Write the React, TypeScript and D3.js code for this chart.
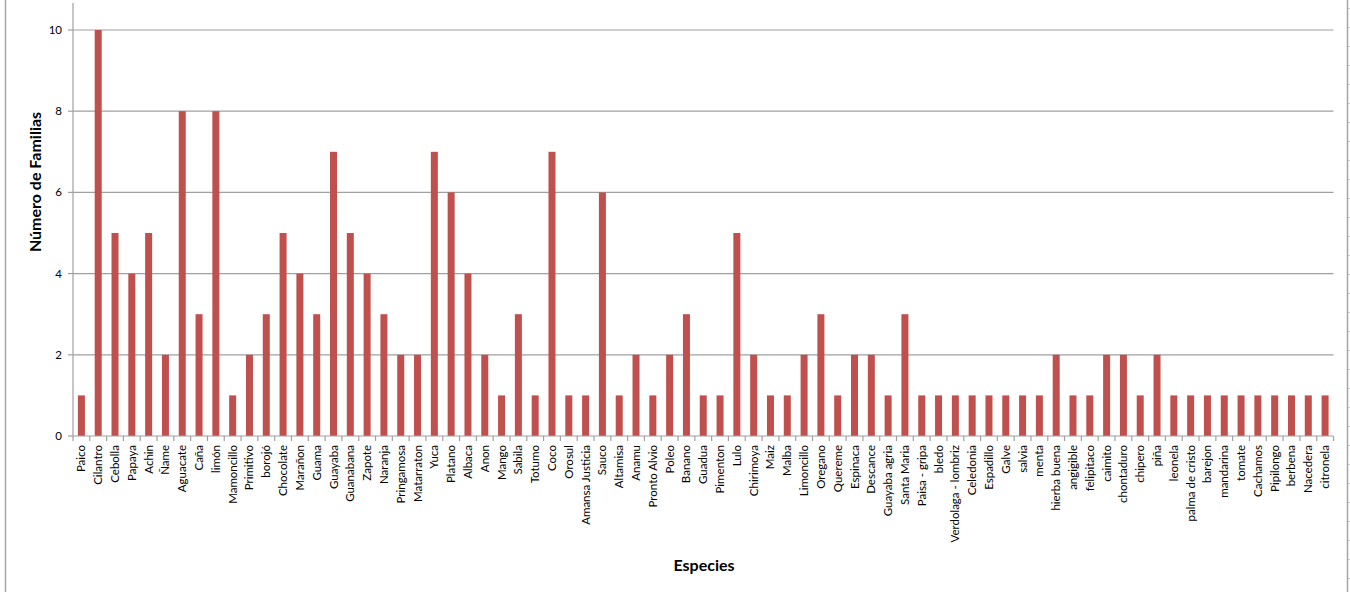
import React from "react";
import * as d3 from "d3";

const categories: string[] = [
  "Paico", "Cilantro", "Cebolla", "Papaya", "Achin", "Ñame", "Aguacate", "Caña", "limón", "Mamoncillo",
  "Primitivo", "borojó", "Chocolate", "Marañon", "Guama", "Guayaba", "Guanabana", "Zapote", "Naranja", "Pringamosa",
  "Matarraton", "Yuca", "Platano", "Albaca", "Anon", "Mango", "Sabila", "Totumo", "Coco", "Orosul",
  "Amansa Justicia", "Sauco", "Altamisa", "Anamu", "Pronto Alvio", "Poleo", "Banano", "Guadua", "Pimenton", "Lulo",
  "Chirimoya", "Maiz", "Malba", "Limoncillo", "Oregano", "Quereme", "Espinaca", "Descance", "Guayaba agria", "Santa Maria",
  "Paisa - gripa", "bledo", "Verdolaga - lombriz", "Celedonia", "Espadillo", "Galve", "salvia", "menta", "hierba buena", "angigible",
  "felipitaco", "caimito", "chontaduro", "chipero", "piña", "leonela", "palma de cristo", "barejon", "mandarina", "tomate",
  "Cachamos", "Pipilongo", "berbena", "Nacedera", "citronela",
];

const values: number[] = [
  1, 10, 5, 4, 5, 2, 8, 3, 8, 1,
  2, 3, 5, 4, 3, 7, 5, 4, 3, 2,
  2, 7, 6, 4, 2, 1, 3, 1, 7, 1,
  1, 6, 1, 2, 1, 2, 3, 1, 1, 5,
  2, 1, 1, 2, 3, 1, 2, 2, 1, 3,
  1, 1, 1, 1, 1, 1, 1, 1, 2, 1,
  1, 2, 2, 1, 2, 1, 1, 1, 1, 1,
  1, 1, 1, 1, 1,
];

const yTicks: number[] = [0, 2, 4, 6, 8, 10];

const W = 1350;
const H = 592;
const left = 73;
const right = 1333.5;
const top = 30;
const bottom = 436;
const FONT = "Lato, 'Open Sans', sans-serif";

export default function App() {
  const x = d3.scaleBand<string>().domain(categories).range([left, right]).paddingInner(0).paddingOuter(0);
  const y = d3.scaleLinear().domain([0, 10]).range([bottom, top]);
  const bw = 7;
  const step = x.step();
  const rightTicks = d3.range(8, H, 19);

  return (
    <svg width={W} height={H} style={{ position: "absolute", left: 0, top: 0, background: "#fff" }}>
      <rect x={0} y={0} width={W} height={H} fill="#fff" />
      {/* outer border lines */}
      <line x1={5.5} x2={5.5} y1={0} y2={H} stroke="#a6a6a6" strokeWidth={1.5} />
      <line x1={1347.5} x2={1347.5} y1={0} y2={H} stroke="#a6a6a6" strokeWidth={1.5} />
      {rightTicks.map((t, i) => (
        <line key={"rt" + i} x1={1348} x2={1350} y1={t + 0.5} y2={t + 0.5} stroke="#c8c8c8" />
      ))}
      {/* gridlines */}
      {yTicks.filter((t) => t > 0).map((t) => (
        <line key={"g" + t} x1={left} x2={right} y1={y(t)} y2={y(t)} stroke="#a0a0a0" strokeWidth={1.2} />
      ))}
      {/* y axis */}
      <line x1={left} x2={left} y1={3} y2={bottom} stroke="#a0a0a0" strokeWidth={1.2} />
      {yTicks.map((t) => (
        <g key={"yt" + t}>
          <line x1={left - 5} x2={left} y1={y(t)} y2={y(t)} stroke="#a0a0a0" strokeWidth={1.2} />
          <text x={62} y={y(t)} dy="0.35em" textAnchor="end" fontSize={11.5} fontFamily={FONT} fill="#000">
            {t}
          </text>
        </g>
      ))}
      {/* bars */}
      {categories.map((c, i) => (
        <rect
          key={"b" + i}
          x={(x(c) as number) + step / 2 - bw / 2}
          y={y(values[i])}
          width={bw}
          height={bottom - y(values[i])}
          fill="#C0504D"
        />
      ))}
      {/* x axis */}
      <line x1={left} x2={right} y1={bottom} y2={bottom} stroke="#a0a0a0" strokeWidth={1.2} />
      {categories.map((c, i) => (
        <line
          key={"xt" + i}
          x1={(x(c) as number) + step}
          x2={(x(c) as number) + step}
          y1={bottom}
          y2={bottom + 5}
          stroke="#a0a0a0"
          strokeWidth={1.2}
        />
      ))}
      <line x1={left} x2={left} y1={bottom} y2={bottom + 5} stroke="#a0a0a0" strokeWidth={1.2} />
      {categories.map((c, i) => {
        const cx = (x(c) as number) + step / 2 + 4;
        const cy = 445;
        return (
          <text
            key={"xl" + i}
            transform={`translate(${cx},${cy}) rotate(-90)`}
            textAnchor="end"
            fontSize={11.5}
            fontFamily={FONT}
            fill="#000"
          >
            {c}
          </text>
        );
      })}
      {/* axis titles */}
      <text
        transform={`translate(41,182) rotate(-90)`}
        textAnchor="middle"
        fontSize={16}
        fontWeight="bold"
        fontFamily={FONT}
        fill="#000"
      >
        Número de Familias
      </text>
      <text x={704} y={571} textAnchor="middle" fontSize={16} fontWeight="bold" fontFamily={FONT} fill="#000">
        Especies
      </text>
    </svg>
  );
}
